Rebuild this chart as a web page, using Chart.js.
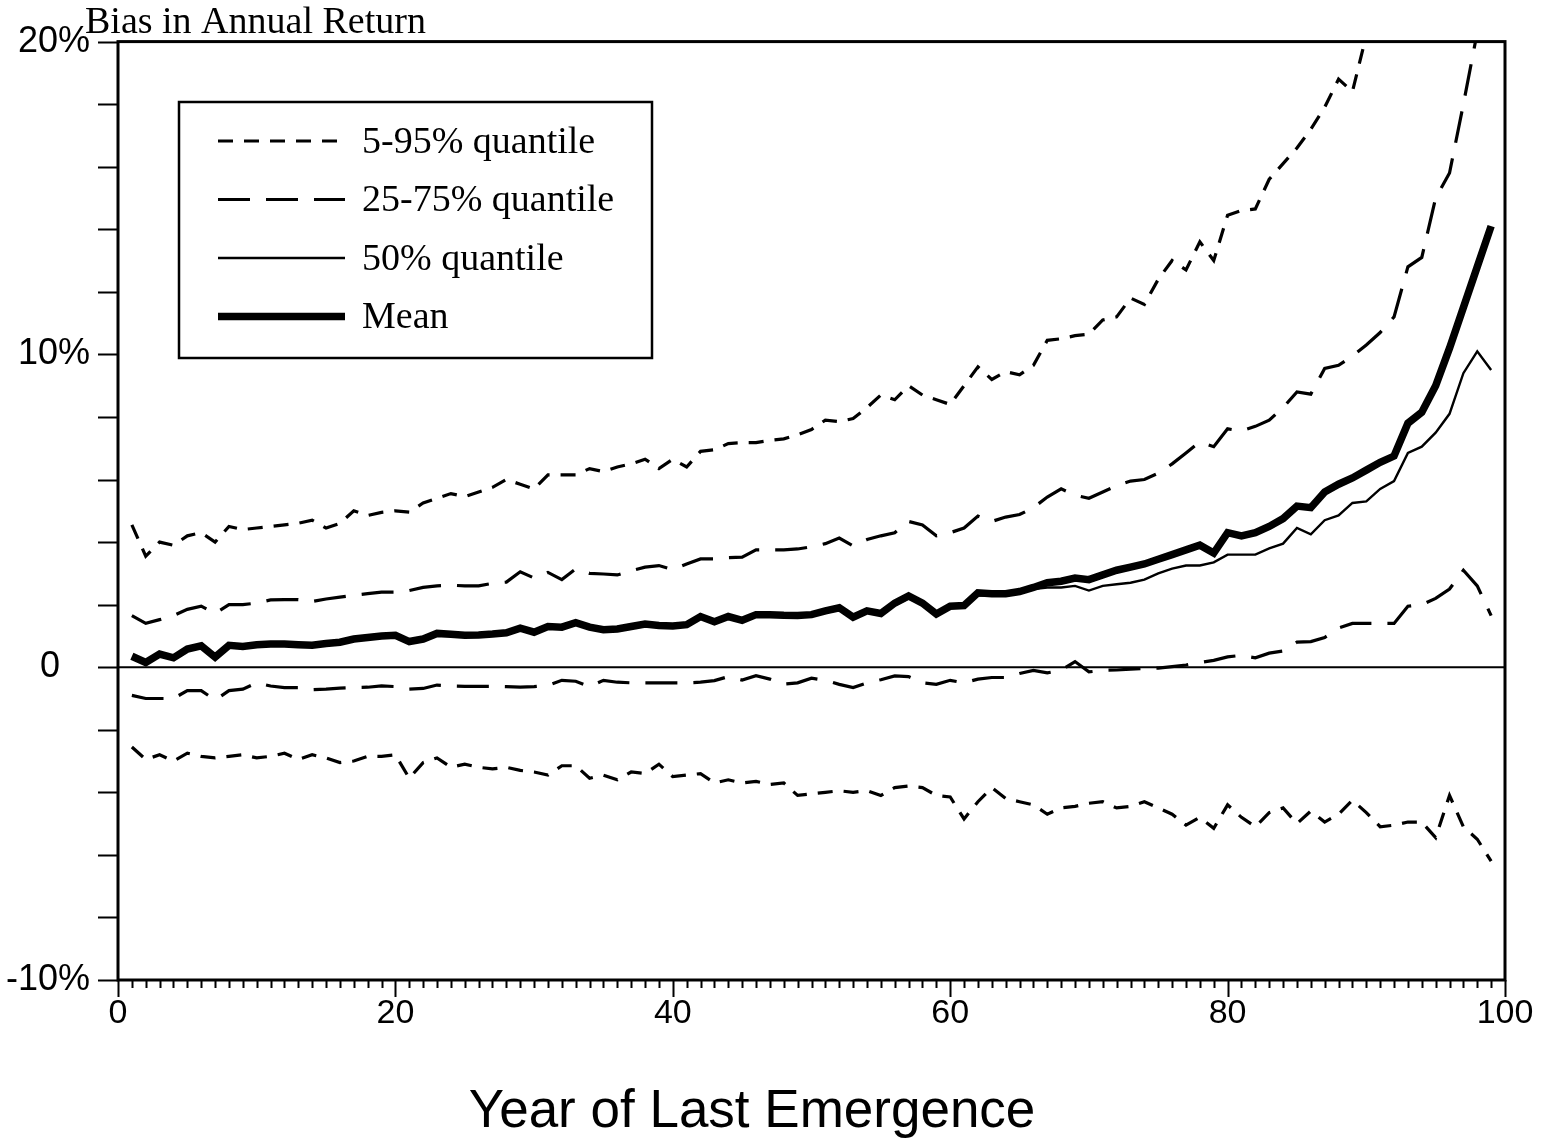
<!DOCTYPE html>
<html>
<head>
<meta charset="utf-8">
<script src="https://cdn.jsdelivr.net/npm/chart.js@4.4.0/dist/chart.umd.min.js"></script>
<style>
  html, body { margin: 0; padding: 0; background: #fff; }
  #wrap { width: 1549px; height: 1140px; }
</style>
</head>
<body>
<div id="wrap"><canvas id="biasChart" width="1549" height="1140"></canvas></div>
<script>
// 年（横軸）
const years = [1,2,3,4,5,6,7,8,9,10,11,12,13,14,15,16,17,18,19,20,
  21,22,23,24,25,26,27,28,29,30,31,32,33,34,35,36,37,38,39,40,
  41,42,43,44,45,46,47,48,49,50,51,52,53,54,55,56,57,58,59,60,
  61,62,63,64,65,66,67,68,69,70,71,72,73,74,75,76,77,78,79,80,
  81,82,83,84,85,86,87,88,89,90,91,92,93,94,95,96,97,98,99];

// 95% quantile (上側の細かい破線)
const q95 = [4.55,3.55,4.0,3.9,4.2,4.3,4.0,4.5,4.4,4.45,
  4.5,4.55,4.6,4.7,4.45,4.6,5.0,4.85,4.95,5.0,
  4.96,5.25,5.4,5.55,5.45,5.6,5.75,6.0,5.85,5.7,
  6.15,6.15,6.15,6.35,6.25,6.4,6.5,6.65,6.35,6.65,
  6.4,6.9,6.95,7.15,7.18,7.18,7.25,7.3,7.43,7.6,
  7.9,7.85,7.95,8.3,8.7,8.55,9.0,8.7,8.55,8.4,
  9.0,9.6,9.2,9.45,9.35,9.65,10.45,10.5,10.6,10.65,
  11.1,11.2,11.8,11.6,12.4,13.0,12.7,13.6,13.0,14.45,
  14.6,14.65,15.6,16.1,16.6,17.2,17.9,18.8,18.4,20.2,
  21.6,null,null,null,null,null,null,null,null];

// 75% quantile (上側の長い破線)
const q75 = [1.65,1.4,1.52,1.65,1.85,1.95,1.72,2.0,2.0,2.05,
  2.15,2.16,2.16,2.1,2.18,2.24,2.3,2.35,2.4,2.4,
  2.45,2.55,2.6,2.62,2.6,2.6,2.68,2.72,3.05,2.85,
  3.03,2.8,3.14,3.0,2.98,2.95,3.08,3.2,3.25,3.12,
  3.3,3.46,3.46,3.5,3.52,3.75,3.75,3.75,3.78,3.85,
  3.95,4.13,3.88,4.08,4.2,4.3,4.66,4.55,4.2,4.3,
  4.45,4.83,4.66,4.8,4.88,5.1,5.44,5.7,5.5,5.4,
  5.6,5.8,5.95,6.0,6.2,6.5,6.85,7.2,7.05,7.62,
  7.55,7.7,7.9,8.3,8.8,8.73,9.55,9.65,9.95,10.3,
  10.7,11.2,12.8,13.1,15.0,15.8,18.0,20.3,23.0];

// 50% quantile (細い実線)
const q50 = [0.3,0.12,0.4,0.28,0.55,0.65,0.3,0.68,0.64,0.7,
  0.72,0.72,0.7,0.68,0.74,0.78,0.87,0.92,0.97,1.0,
  0.8,0.88,1.05,1.02,1.0,1.0,1.03,1.07,1.2,1.1,
  1.27,1.25,1.38,1.25,1.17,1.2,1.27,1.35,1.3,1.3,
  1.33,1.58,1.42,1.58,1.47,1.64,1.65,1.63,1.62,1.64,
  1.76,1.85,1.57,1.76,1.68,1.98,2.2,2.0,1.66,1.9,
  1.92,2.3,2.28,2.3,2.36,2.5,2.55,2.55,2.6,2.45,
  2.6,2.65,2.7,2.8,3.0,3.15,3.25,3.25,3.35,3.6,
  3.6,3.6,3.8,3.95,4.45,4.25,4.7,4.85,5.25,5.3,
  5.7,5.95,6.85,7.05,7.5,8.1,9.4,10.1,9.5];

// 平均 (太い実線)
const meanBias = [0.35,0.15,0.42,0.3,0.58,0.68,0.32,0.7,0.66,0.72,
  0.74,0.74,0.72,0.7,0.76,0.8,0.9,0.95,1.0,1.02,
  0.82,0.9,1.08,1.05,1.02,1.03,1.06,1.1,1.25,1.12,
  1.3,1.28,1.42,1.28,1.2,1.22,1.3,1.38,1.33,1.32,
  1.36,1.62,1.45,1.62,1.5,1.68,1.68,1.66,1.65,1.68,
  1.8,1.9,1.6,1.8,1.72,2.05,2.28,2.05,1.7,1.95,
  1.97,2.38,2.35,2.35,2.42,2.55,2.7,2.75,2.85,2.8,
  2.95,3.1,3.2,3.3,3.45,3.6,3.75,3.9,3.65,4.3,
  4.2,4.3,4.5,4.75,5.15,5.1,5.6,5.85,6.05,6.3,
  6.55,6.75,7.8,8.15,9.0,10.2,11.5,12.8,14.1];

// 25% quantile (下側の長い破線)
const q25 = [-0.9,-1.0,-1.0,-1.0,-0.75,-0.75,-1.05,-0.75,-0.7,-0.5,
  -0.6,-0.65,-0.65,-0.72,-0.7,-0.67,-0.65,-0.64,-0.6,-0.62,
  -0.7,-0.68,-0.57,-0.6,-0.61,-0.61,-0.61,-0.62,-0.64,-0.62,
  -0.58,-0.42,-0.45,-0.62,-0.42,-0.48,-0.5,-0.5,-0.5,-0.5,
  -0.5,-0.48,-0.43,-0.3,-0.41,-0.27,-0.38,-0.54,-0.5,-0.35,
  -0.42,-0.55,-0.65,-0.5,-0.4,-0.28,-0.3,-0.5,-0.55,-0.42,
  -0.5,-0.38,-0.33,-0.33,-0.2,-0.1,-0.18,-0.1,0.18,-0.15,
  -0.1,-0.09,-0.06,-0.04,-0.03,0.02,0.07,0.15,0.22,0.33,
  0.38,0.3,0.45,0.52,0.8,0.82,0.95,1.25,1.4,1.4,
  1.4,1.4,1.95,2.0,2.2,2.5,3.1,2.6,1.65];

// 5% quantile (下側の細かい破線)
const q5 = [-2.55,-2.95,-2.8,-3.0,-2.75,-2.85,-2.9,-2.85,-2.8,-2.9,
  -2.85,-2.75,-2.95,-2.8,-2.9,-3.05,-3.0,-2.85,-2.85,-2.8,
  -3.55,-3.05,-2.9,-3.2,-3.1,-3.2,-3.25,-3.2,-3.3,-3.35,
  -3.45,-3.15,-3.15,-3.55,-3.45,-3.6,-3.35,-3.4,-3.1,-3.5,
  -3.45,-3.4,-3.7,-3.6,-3.7,-3.65,-3.75,-3.7,-4.1,-4.05,
  -4.0,-3.95,-4.0,-3.95,-4.1,-3.85,-3.8,-3.85,-4.1,-4.15,
  -4.85,-4.3,-3.85,-4.2,-4.3,-4.4,-4.7,-4.5,-4.45,-4.35,
  -4.3,-4.5,-4.45,-4.3,-4.5,-4.7,-5.05,-4.8,-5.15,-4.4,
  -4.8,-5.1,-4.65,-4.5,-5.0,-4.6,-4.95,-4.7,-4.25,-4.65,
  -5.1,-5.05,-4.95,-4.95,-5.45,-4.1,-5.1,-5.5,-6.2];

// 縦軸ラベル
const yTickLabels = { "20": "20%", "10": "10%", "0": "0   ", "-10": "-10%" };

const legendItems = [
  { label: "5-95% quantile", dash: [15, 11], width: 3.2 },
  { label: "25-75% quantile", dash: [32, 16], width: 3.2 },
  { label: "50% quantile", dash: [], width: 2.4 },
  { label: "Mean", dash: [], width: 7.5 }
];

const toPoints = arr => years.map((x, i) => ({ x: x, y: arr[i] }));

function lineSet(arr, style) {
  return {
    data: toPoints(arr),
    borderColor: "#000",
    borderWidth: style.width,
    borderDash: style.dash,
    pointRadius: 0,
    tension: 0,
    fill: false,
    spanGaps: false,
    clip: 0
  };
}

// 枠・目盛・凡例・軸タイトル
const framePlugin = {
  id: "frame",
  beforeDatasetsDraw(chart) {
    const { ctx, chartArea: a, scales: { y } } = chart;
    ctx.save();
    ctx.strokeStyle = "#000";
    ctx.lineWidth = 2;
    const y0 = y.getPixelForValue(0);
    ctx.beginPath();
    ctx.moveTo(a.left, y0);
    ctx.lineTo(a.right, y0);
    ctx.stroke();
    ctx.restore();
  },
  afterDraw(chart) {
    const { ctx, chartArea: a, scales: { x, y } } = chart;
    ctx.save();
    ctx.strokeStyle = "#000";
    ctx.fillStyle = "#000";

    // plot frame
    ctx.lineWidth = 3;
    ctx.strokeRect(a.left, a.top, a.right - a.left, a.bottom - a.top);

    // x ticks
    ctx.lineWidth = 2;
    ctx.beginPath();
    for (let v = 0; v <= 100; v++) {
      const px = Math.round(x.getPixelForValue(v)) + 0.5;
      const len = v % 20 === 0 ? 17 : 8;
      ctx.moveTo(px, a.bottom);
      ctx.lineTo(px, a.bottom + len);
    }
    // y ticks
    for (let v = -10; v <= 20; v += 2) {
      const py = Math.round(y.getPixelForValue(v)) + 0.5;
      ctx.moveTo(a.left - 20, py);
      ctx.lineTo(a.left, py);
    }
    ctx.stroke();

    // axis titles
    ctx.font = "38px 'Liberation Serif'";
    ctx.textAlign = "left";
    ctx.textBaseline = "alphabetic";
    ctx.fillText("Bias in Annual Return", 85, 33);

    ctx.font = "53px 'Liberation Sans'";
    ctx.textAlign = "center";
    ctx.fillText("Year of Last Emergence", 752, 1127);

    // legend
    const lx = 179, ly = 102, lw = 473, lh = 256;
    ctx.fillStyle = "#fff";
    ctx.fillRect(lx, ly, lw, lh);
    ctx.lineWidth = 2.5;
    ctx.strokeRect(lx, ly, lw, lh);
    ctx.fillStyle = "#000";
    ctx.font = "38px 'Liberation Serif'";
    ctx.textAlign = "left";
    ctx.textBaseline = "middle";
    legendItems.forEach((it, i) => {
      const ry = 141 + i * 58.5;
      ctx.lineWidth = it.width;
      ctx.setLineDash(it.dash);
      ctx.beginPath();
      ctx.moveTo(218, ry);
      ctx.lineTo(345, ry);
      ctx.stroke();
      ctx.setLineDash([]);
      ctx.fillText(it.label, 362, ry + 2);
    });
    ctx.restore();
  }
};

new Chart(document.getElementById("biasChart"), {
  type: "line",
  data: {
    datasets: [
      lineSet(q95, legendItems[0]),
      lineSet(q5, legendItems[0]),
      lineSet(q75, legendItems[1]),
      lineSet(q25, legendItems[1]),
      lineSet(q50, legendItems[2]),
      lineSet(meanBias, legendItems[3])
    ]
  },
  options: {
    responsive: false,
    animation: false,
    layout: { padding: { top: 36, right: 44, left: 0, bottom: 0 } },
    plugins: { legend: { display: false }, tooltip: { enabled: false } },
    scales: {
      x: {
        type: "linear",
        min: 0,
        max: 100,
        grid: { display: false },
        border: { display: false },
        ticks: {
          stepSize: 20,
          color: "#000",
          padding: 5,
          maxRotation: 0,
          font: { family: "'Liberation Sans', Arial", size: 34 }
        },
        afterFit: s => { s.height = 160; }
      },
      y: {
        type: "linear",
        min: -10,
        max: 20,
        grid: { display: false },
        border: { display: false },
        ticks: {
          stepSize: 2,
          autoSkip: false,
          color: "#000",
          padding: 20,
          font: { family: "'Liberation Sans', Arial", size: 36 },
          callback: v => yTickLabels[String(v)] || ""
        },
        afterFit: s => { s.width = 118; }
      }
    }
  },
  plugins: [framePlugin]
});
</script>
</body>
</html>
